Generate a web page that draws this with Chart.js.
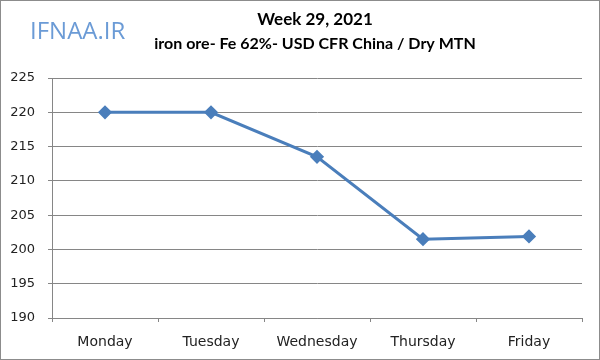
<!DOCTYPE html>
<html>
<head>
<meta charset="utf-8">
<script src="https://cdn.jsdelivr.net/npm/chart.js@4"></script>
<style>
  html, body { margin: 0; padding: 0; background: #fff; }
</style>
</head>
<body>
<canvas id="chart" width="600" height="360"></canvas>
<script>
// week 29, 2021 prices
const days = ["Monday", "Tuesday", "Wednesday", "Thursday", "Friday"];
const prices = [220, 220, 213.5, 201.5, 201.9];
const yMin = 190;
const yMax = 225;
const yStep = 5;

const titleText = "Week 29, 2021";
const subtitleText = "iron ore- Fe 62%- USD CFR China / Dry MTN";
const logoText = "IFNAA.IR";

// frame, logo and the two title lines
const headerPlugin = {
  id: "header",
  beforeDraw(chart) {
    const ctx = chart.ctx;
    ctx.save();
    ctx.fillStyle = "#fff";
    ctx.fillRect(0, 0, chart.width, chart.height);
    ctx.strokeStyle = "#8c8c8c";
    ctx.lineWidth = 1;
    ctx.strokeRect(0.5, 0.5, chart.width - 1, chart.height - 1);
    ctx.restore();
  },
  afterDraw(chart) {
    const ctx = chart.ctx;
    ctx.save();
    ctx.textBaseline = "middle";
    ctx.font = "24px 'Open Sans', sans-serif";
    ctx.fillStyle = "#6b9bd6";
    ctx.textAlign = "left";
    ctx.fillText(logoText, 30, 32);

    ctx.fillStyle = "#000";
    ctx.textAlign = "center";
    ctx.font = "bold 17px Lato, sans-serif";
    ctx.fillText(titleText, 315, 20);
    ctx.font = "bold 16px Lato, sans-serif";
    ctx.fillText(subtitleText, 315, 44);
    ctx.restore();
  }
};

new Chart(document.getElementById("chart"), {
  type: "line",
  data: {
    labels: days,
    datasets: [{
      data: prices,
      borderColor: "#4a7ebb",
      backgroundColor: "#4a7ebb",
      borderWidth: 3,
      pointStyle: "rectRot",
      pointRadius: 5,
      tension: 0
    }]
  },
  options: {
    responsive: false,
    animation: false,
    layout: { padding: { left: 0, right: 18, top: 78, bottom: 0 } },
    plugins: {
      legend: { display: false },
      tooltip: { enabled: false },
      title: { display: false }
    },
    scales: {
      x: {
        offset: true,
        afterFit(scale) { scale.height = 42; },
        grid: {
          offset: true,
          drawOnChartArea: false,
          color: "#868686",
          tickLength: 4
        },
        border: { color: "#868686" },
        ticks: {
          color: "#222",
          font: { family: "DejaVu Sans", size: 14 },
          padding: 12
        }
      },
      y: {
        min: yMin,
        max: yMax,
        afterFit(scale) { scale.width = 52; },
        grid: { color: "#868686", tickLength: 4 },
        border: { color: "#868686" },
        ticks: {
          stepSize: yStep,
          color: "#222",
          font: { family: "DejaVu Sans", size: 13 },
          padding: 13
        }
      }
    }
  },
  plugins: [headerPlugin]
});
</script>
</body>
</html>
